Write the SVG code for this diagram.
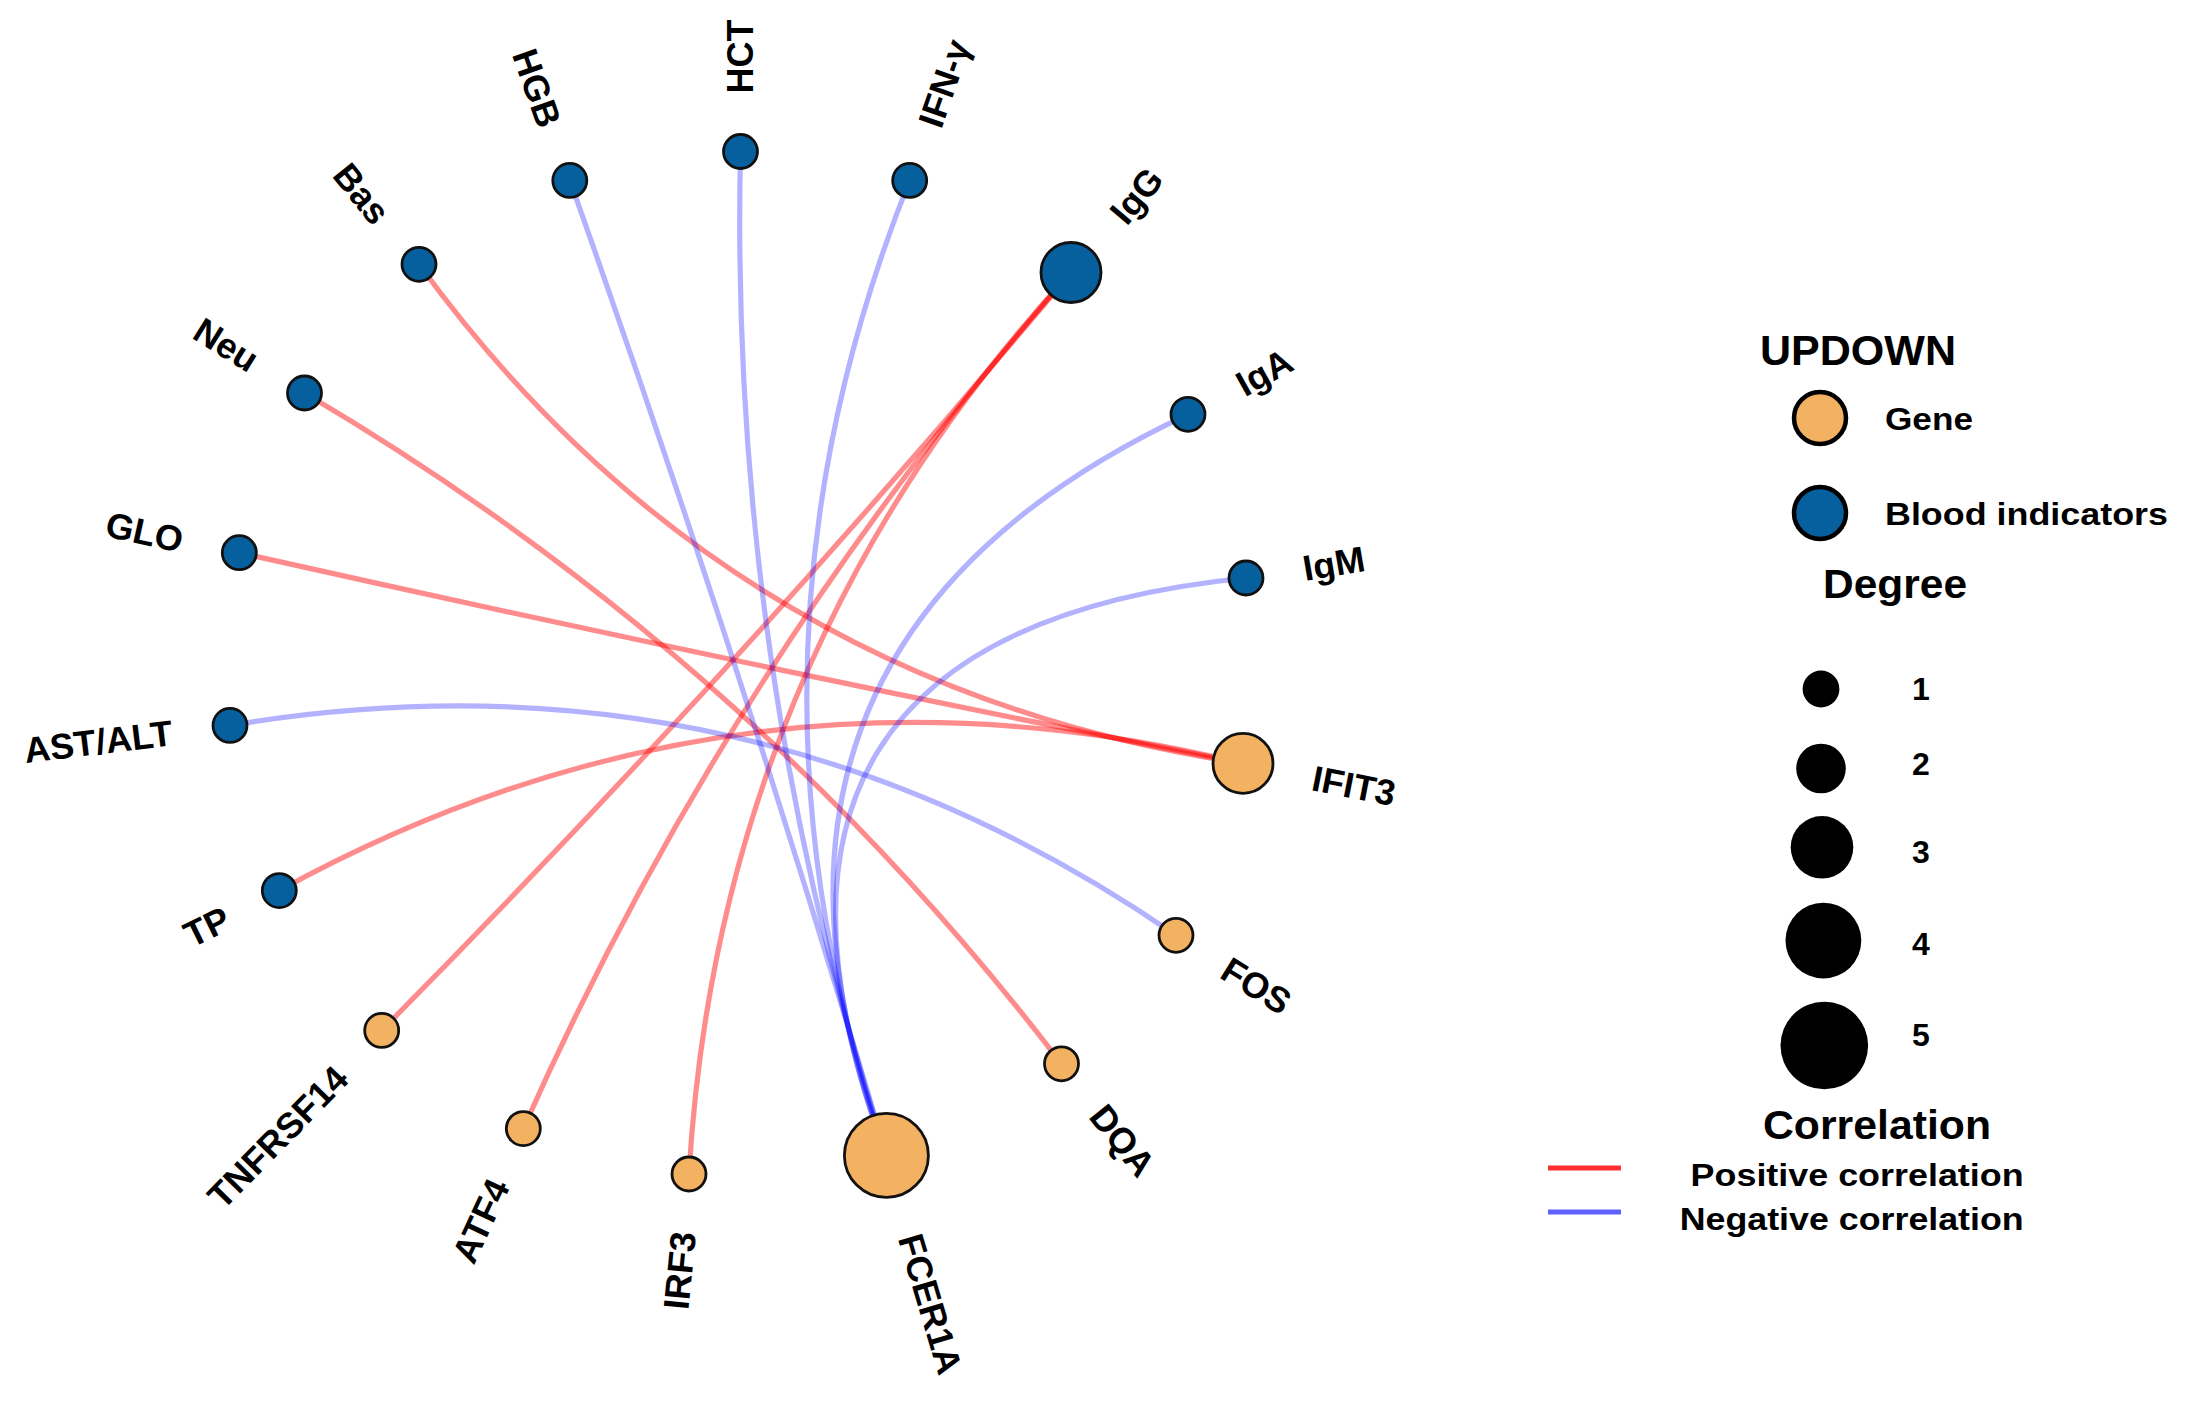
<svg xmlns="http://www.w3.org/2000/svg" width="2187" height="1401" viewBox="0 0 2187 1401">
<style>
  .pos { fill: none; stroke: #ff0000; stroke-opacity: 0.45; stroke-width: 5.2; }
  .neg { fill: none; stroke: #0000ff; stroke-opacity: 0.3; stroke-width: 5.2; }
  .blood { fill: #06609e; stroke: #111; stroke-width: 2.8; }
  .gene { fill: #f3b162; stroke: #111; stroke-width: 2.8; }
  .lbl { font-family: "Liberation Sans", Arial, sans-serif; font-weight: bold; font-size: 36px; fill: #000; }
  .leg { font-family: "Liberation Sans", Arial, sans-serif; font-weight: bold; fill: #000; }
</style>
<rect width="2187" height="1401" fill="#ffffff"/>
<g id="edges">
  <path class="pos" d="M419,264.3 Q726.4,686.5 1243,763.4"/>
  <path class="pos" d="M304.5,393 Q748.6,654.3 1061.5,1063.8"/>
  <path class="pos" d="M239.3,552.7 Q739.8,664.9 1243,763.4"/>
  <path class="pos" d="M279.3,890.6 Q736.8,639.5 1243,763.4"/>
  <path class="pos" d="M1071,272.5 Q742,666 381.7,1030.4"/>
  <path class="pos" d="M1071,272.5 Q731.5,658.5 523.3,1128.6"/>
  <path class="pos" d="M1071,272.5 Q719,655 689,1174"/>
  <path class="neg" d="M230,725.4 Q745.6,639 1176,935.3"/>
  <path class="neg" d="M569.8,180.4 Q741.8,663.4 886.4,1155.4"/>
  <path class="neg" d="M740.5,151.5 Q729,665.6 886.4,1155.4"/>
  <path class="neg" d="M909.7,180.4 Q716.3,663.4 886.4,1155.4"/>
  <path class="neg" d="M1188,414.3 Q695.4,645.9 886.4,1155.4"/>
  <path class="neg" d="M1246,578 Q691.1,633.6 886.4,1155.4"/>
</g>
<g id="node-HCT"><circle class="blood" cx="740.5" cy="151.5" r="17"/><text class="lbl" transform="translate(740.5,93.5) rotate(-90)" dy="0.36em">HCT</text></g>
<g id="node-HGB"><circle class="blood" cx="569.8" cy="180.4" r="17"/><text class="lbl" text-anchor="end" transform="translate(550.5,125.7) rotate(70.6)" dy="0.36em">HGB</text></g>
<g id="node-IFNG"><circle class="blood" cx="909.7" cy="180.4" r="17"/><text class="lbl" transform="translate(928.9,125.7) rotate(-70.7)" dy="0.36em">IFN-γ</text></g>
<g id="node-Bas"><circle class="blood" cx="419" cy="264.3" r="17"/><text class="lbl" text-anchor="end" transform="translate(382.7,219.1) rotate(51.25)" dy="0.36em">Bas</text></g>
<g id="node-IgG"><circle class="blood" cx="1071" cy="272.5" r="30"/><text class="lbl" transform="translate(1116.8,218.3) rotate(-49.8)" dy="0.36em">IgG</text></g>
<g id="node-Neu"><circle class="blood" cx="304.5" cy="393" r="17"/><text class="lbl" text-anchor="end" transform="translate(255.3,362.4) rotate(31.9)" dy="0.36em">Neu</text></g>
<g id="node-IgA"><circle class="blood" cx="1188" cy="414.3" r="17"/><text class="lbl" transform="translate(1238.7,386.1) rotate(-29.1)" dy="0.36em">IgA</text></g>
<g id="node-GLO"><circle class="blood" cx="239.3" cy="552.7" r="17"/><text class="lbl" text-anchor="end" transform="translate(182.7,540.1) rotate(12.5)" dy="0.36em">GLO</text></g>
<g id="node-IgM"><circle class="blood" cx="1246" cy="578" r="17"/><text class="lbl" transform="translate(1303.2,568.3) rotate(-9.65)" dy="0.36em">IgM</text></g>
<g id="node-ASTALT"><circle class="blood" cx="230" cy="725.4" r="17"/><text class="lbl" text-anchor="end" transform="translate(172.4,732.3) rotate(-6.9)" dy="0.36em">AST/ALT</text></g>
<g id="node-IFIT3"><circle class="gene" cx="1243" cy="763.4" r="30"/><text class="lbl" transform="translate(1312.7,777.2) rotate(11.2)" dy="0.36em">IFIT3</text></g>
<g id="node-TP"><circle class="blood" cx="279.3" cy="890.6" r="17"/><text class="lbl" text-anchor="end" transform="translate(227.3,916.2) rotate(-26.2)" dy="0.36em">TP</text></g>
<g id="node-FOS"><circle class="gene" cx="1176" cy="935.3" r="17"/><text class="lbl" transform="translate(1225.2,965.9) rotate(31.9)" dy="0.36em">FOS</text></g>
<g id="node-TNFRSF14"><circle class="gene" cx="381.7" cy="1030.4" r="17"/><text class="lbl" text-anchor="end" transform="translate(341.2,1071.9) rotate(-45.6)" dy="0.36em">TNFRSF14</text></g>
<g id="node-DQA"><circle class="gene" cx="1061.5" cy="1063.8" r="17"/><text class="lbl" transform="translate(1097.8,1109) rotate(51.2)" dy="0.36em">DQA</text></g>
<g id="node-ATF4"><circle class="gene" cx="523.3" cy="1128.6" r="17"/><text class="lbl" text-anchor="end" transform="translate(498.8,1181.2) rotate(-65)" dy="0.36em">ATF4</text></g>
<g id="node-IRF3"><circle class="gene" cx="689" cy="1174" r="17"/><text class="lbl" text-anchor="end" transform="translate(683.2,1231.7) rotate(-84.3)" dy="0.36em">IRF3</text></g>
<g id="node-FCER1A"><circle class="gene" cx="886.4" cy="1155.4" r="42"/><text class="lbl" transform="translate(910.1,1234.9) rotate(73.4)" dy="0.36em">FCER1A</text></g>
<g id="legend">
  <text class="leg" x="1760" y="365" font-size="43" textLength="196" lengthAdjust="spacingAndGlyphs">UPDOWN</text>
  <circle cx="1820" cy="418" r="26" fill="#f3b162" stroke="#000" stroke-width="4.5"/>
  <text class="leg" x="1885" y="430" font-size="32" textLength="88" lengthAdjust="spacingAndGlyphs">Gene</text>
  <circle cx="1820" cy="513" r="26" fill="#06609e" stroke="#000" stroke-width="4.5"/>
  <text class="leg" x="1885" y="525" font-size="32" textLength="283" lengthAdjust="spacingAndGlyphs">Blood indicators</text>
  <text class="leg" x="1823" y="598" font-size="40" textLength="144" lengthAdjust="spacingAndGlyphs">Degree</text>
  <circle cx="1821" cy="689" r="18.4" fill="#000"/>
  <circle cx="1821" cy="768.5" r="24.8" fill="#000"/>
  <circle cx="1822" cy="847.3" r="31.3" fill="#000"/>
  <circle cx="1823.4" cy="940.6" r="37.9" fill="#000"/>
  <circle cx="1824.3" cy="1045.5" r="43.8" fill="#000"/>
  <text class="leg" x="1921" y="700" font-size="32" text-anchor="middle">1</text>
  <text class="leg" x="1921" y="775" font-size="32" text-anchor="middle">2</text>
  <text class="leg" x="1921" y="862.5" font-size="32" text-anchor="middle">3</text>
  <text class="leg" x="1921" y="955" font-size="32" text-anchor="middle">4</text>
  <text class="leg" x="1921" y="1046" font-size="32" text-anchor="middle">5</text>
  <text class="leg" x="1763" y="1139" font-size="40" textLength="228" lengthAdjust="spacingAndGlyphs">Correlation</text>
  <line x1="1548" y1="1168" x2="1621" y2="1168" stroke="#ff3030" stroke-width="5"/>
  <text class="leg" x="1690.6" y="1186" font-size="32" textLength="333" lengthAdjust="spacingAndGlyphs">Positive correlation</text>
  <line x1="1548" y1="1212" x2="1621" y2="1212" stroke="#6060ff" stroke-width="5"/>
  <text class="leg" x="1679.7" y="1230" font-size="32" textLength="344" lengthAdjust="spacingAndGlyphs">Negative correlation</text>
</g>
</svg>
